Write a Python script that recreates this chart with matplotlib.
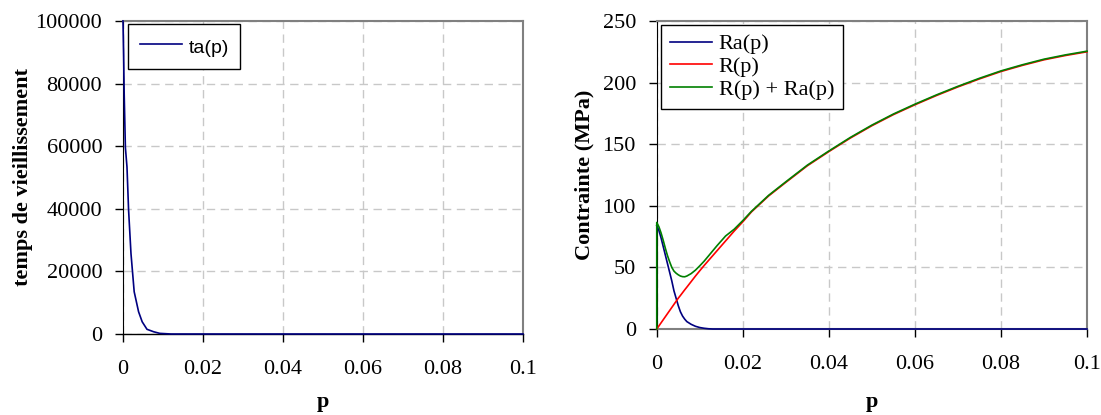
import numpy as np
import matplotlib
matplotlib.use("Agg")
import matplotlib.pyplot as plt
from matplotlib.ticker import FormatStrFormatter

plt.rcParams["font.family"] = ["Liberation Serif", "DejaVu Serif"]
plt.rcParams["font.size"] = 16

# ------------------------------
# data: left chart, ageing time ta(p)
# ------------------------------
p_ta = [0, 0.00017, 0.0003, 0.0006, 0.001, 0.0014, 0.002, 0.0028, 0.0039,
        0.0048, 0.006, 0.0077, 0.0092, 0.012, 0.02, 0.04, 0.06, 0.08, 0.1]
ta = [100000, 88500, 76800, 59600, 53400, 39600, 25700, 13500, 7100,
      3900, 1500, 700, 200, 0, 0, 0, 0, 0, 0]

# ------------------------------
# data: right chart, stresses (MPa)
# ------------------------------
p = [0, 0.0005, 0.001, 0.0015, 0.002, 0.0025, 0.003, 0.0035, 0.004, 0.0045,
     0.005, 0.0055, 0.006, 0.0065, 0.007, 0.008, 0.009, 0.01, 0.011, 0.012,
     0.013, 0.014, 0.016, 0.018, 0.02, 0.022, 0.024, 0.026, 0.028, 0.03,
     0.035, 0.04, 0.045, 0.05, 0.055, 0.06, 0.065, 0.07, 0.075, 0.08,
     0.085, 0.09, 0.095, 0.1]
R = [0, 2.5, 5, 7.5, 10, 12.5, 15, 17.5, 20, 22.5,
     25, 27.2, 29.5, 31.8, 34, 38.5, 43, 47.3, 51.5, 55.5,
     59.5, 63.5, 71.5, 79.5, 87, 95, 101.5, 108, 113.5, 119,
     132.5, 144, 155, 165, 174, 182, 189.5, 196.5, 203, 209,
     214, 218.5, 222, 225]
Ra = [84, 80, 74, 67, 60, 53, 46, 39, 31, 25,
      19, 14, 10.5, 8, 6, 3.8, 2.2, 1.2, 0.6, 0.2,
      0, 0, 0, 0, 0, 0, 0, 0, 0, 0,
      0, 0, 0, 0, 0, 0, 0, 0, 0, 0,
      0, 0, 0, 0]
p_sum = [0] + p
R_sum = [0, 86.5, 83, 78, 72, 65.5, 59.5, 54.5, 50, 47, 45.3,
         44, 43, 42.5, 42.4, 43, 45, 47.8, 51.3, 55, 59.2,
         63.4, 67.6, 75.5, 81, 88, 95.5, 102, 108.5, 114, 119.5,
         133, 144.5, 155.5, 165.5, 174.5, 182.5, 190, 197, 203.5, 209.5,
         214.5, 219, 222.5, 225.5]

grid_kw = dict(color="#c8c8c8", linestyle=(0, (6, 4)), linewidth=1)


def style_axes(ax, ymax, ystep, bottom_color):
    ax.set_xlim(0, 0.1)
    ax.set_ylim(0, ymax)
    ax.set_xticks(np.arange(0, 0.1001, 0.02))
    ax.set_yticks(np.arange(0, ymax + 1, ystep))
    ax.xaxis.set_major_formatter(FormatStrFormatter("%g"))
    ax.tick_params(direction="out", length=6, width=1)
    ax.tick_params(axis="x", pad=13)
    ax.tick_params(axis="y", pad=9)
    ax.grid(True, **grid_kw)
    ax.set_axisbelow(True)
    for s in ("top", "right"):
        ax.spines[s].set_color("#808080")
        ax.spines[s].set_linewidth(1.5)
    ax.spines["left"].set_color("black")
    ax.spines["bottom"].set_color(bottom_color)
    ax.spines["bottom"].set_linewidth(1.5 if bottom_color != "black" else 1)


fig = plt.figure(figsize=(11.01, 4.15), dpi=100)

# ------------------------------
# 1. ta(p)
# ------------------------------
ax1 = fig.add_axes([0.1117, 0.1952, 0.3633, 0.7542])
ax1.plot(p_ta, ta, color="#000080", linewidth=1.2, label="ta(p)", clip_on=False, zorder=3)
style_axes(ax1, 100000, 20000, "black")
ax1.set_ylabel("temps de vieillissement", fontweight="bold", va="center")
ax1.yaxis.set_label_coords(-0.25, 0.5)
ax1.set_xlabel("p", fontweight="bold", va="center")
ax1.xaxis.set_label_coords(0.5, -0.217)
leg1 = ax1.legend(loc="upper left", bbox_to_anchor=(0.0125, 0.99), borderaxespad=0,
                  fancybox=False, edgecolor="black", framealpha=1,
                  prop={"family": "Liberation Sans", "size": 14},
                  handlelength=2.2, handleheight=1.3, handletextpad=0.3,
                  borderpad=0.6)
leg1.get_frame().set_linewidth(1)

# ------------------------------
# 2. R(p), Ra(p), R(p) + Ra(p)
# ------------------------------
ax2 = fig.add_axes([0.5965, 0.2072, 0.3908, 0.7422])
ax2.plot(p, Ra, color="#000080", linewidth=1.2, label="Ra(p)", zorder=3, clip_on=False)
ax2.plot(p, R, color="#ff0000", linewidth=1.2, label="R(p)", zorder=3, clip_on=False)
ax2.plot(p_sum, R_sum, color="#008000", linewidth=1.2, label="R(p) + Ra(p)",
         zorder=3, clip_on=False)
style_axes(ax2, 250, 50, "#808080")
ax2.set_ylabel("Contrainte (MPa)", fontweight="bold", va="center")
ax2.yaxis.set_label_coords(-0.169, 0.5)
ax2.set_xlabel("p", fontweight="bold", va="center")
ax2.xaxis.set_label_coords(0.5, -0.237)
leg2 = ax2.legend(loc="upper left", bbox_to_anchor=(0.01, 0.987), borderaxespad=0,
                  fancybox=False, edgecolor="black", framealpha=1,
                  handlelength=1.9, handletextpad=0.3, borderpad=0.4,
                  labelspacing=0.1)
leg2.get_frame().set_linewidth(1)

fig.savefig("out.png", dpi=100)
